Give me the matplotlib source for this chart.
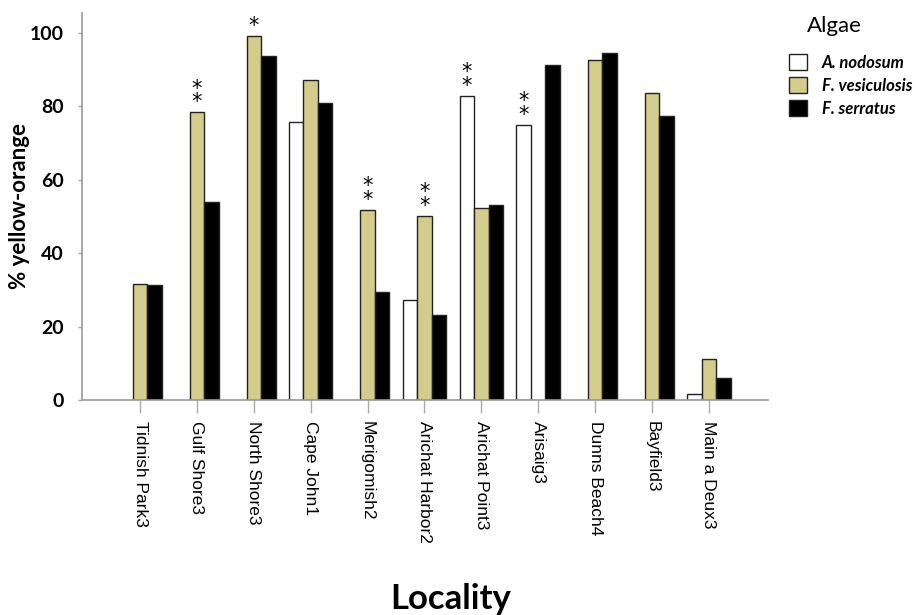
import numpy as np
import matplotlib
matplotlib.use("Agg")
import matplotlib.pyplot as plt
from matplotlib.patches import Patch

localities = [
    "Tidnish Park3", "Gulf Shore3", "North Shore3", "Cape John1",
    "Merigomish2", "Arichat Harbor2", "Arichat Point3", "Arisaig3",
    "Dunns Beach4", "Bayfield3", "Main a Deux3",
]
# % yellow-orange per alga; NaN = not sampled at that locality
nodosum = [np.nan, np.nan, np.nan, 75.6, np.nan, 27.2, 82.7, 74.9, np.nan, np.nan, 1.5]
vesiculosis = [31.5, 78.3, 99.0, 87.1, 51.8, 50.0, 52.2, np.nan, 92.7, 83.6, 11.1]
serratus = [31.2, 53.9, 93.7, 80.9, 29.5, 23.1, 53.2, 91.3, 94.4, 77.2, 6.1]

# significance stars: (locality index, series, number of stars)
stars = [
    (1, "vesiculosis", 2), (2, "vesiculosis", 1), (4, "vesiculosis", 2),
    (5, "vesiculosis", 2), (6, "nodosum", 2), (7, "nodosum", 2),
]

series = {
    "nodosum": (nodosum, "white", "A. nodosum"),
    "vesiculosis": (vesiculosis, "#d4cc8c", "F. vesiculosis"),
    "serratus": (serratus, "black", "F. serratus"),
}
offsets = {"nodosum": -1, "vesiculosis": 0, "serratus": 1}

fig = plt.figure(figsize=(9.17, 6.15), dpi=100)
ax = fig.add_axes([0.0894, 0.3496, 0.7481, 0.6294])

x = np.arange(len(localities))
w = 0.255
for key, (vals, col, lab) in series.items():
    v = np.array(vals, dtype=float)
    m = ~np.isnan(v)
    ax.bar(x[m] + offsets[key] * w, v[m], width=w, color=col,
           edgecolor="#222222", linewidth=1.0, label=lab)

for i, key, n in stars:
    val = series[key][0][i]
    ax.annotate("\n".join(["*"] * n), (x[i] + offsets[key] * w, val),
                xytext=(0, 0), textcoords="offset points",
                ha="center", va="bottom", fontsize=15, linespacing=0.62,
                family="DejaVu Sans")

ax.set_xlim(-1.02, 11.04)
ax.set_ylim(0, 105.4)
ax.set_yticks([0, 20, 40, 60, 80, 100])
ax.set_xticks(x)
ax.set_xticklabels(localities, rotation=-90, fontsize=12.5,
                   family="Liberation Sans")
for t in ax.get_yticklabels():
    t.set_fontfamily("Lato")
    t.set_fontweight("bold")
    t.set_fontsize(14)
ax.tick_params(axis="x", length=9, width=1, color="#aaaaaa", pad=6)
ax.tick_params(axis="y", length=3, width=1, color="#aaaaaa", pad=10)

for s in ("top", "right"):
    ax.spines[s].set_visible(False)
for s in ("left", "bottom"):
    ax.spines[s].set_color("#999999")
    ax.spines[s].set_linewidth(1.2)

ax.set_ylabel("% yellow-orange", family="Lato", fontweight="bold",
              fontsize=16)
ax.yaxis.set_label_coords(-0.076, 0.50)
fig.text(0.492, 0.026, "Locality", family="Lato", fontweight="bold",
         fontsize=25, ha="center", va="center")

fig.text(0.880, 0.957, "Algae", family="Lato", fontsize=16,
         ha="left", va="center")
handles = [Patch(facecolor=c, edgecolor="#222222", label=l)
           for (_, c, l) in series.values()]
fig.legend(handles=handles, loc="upper left",
           bbox_to_anchor=(0.860, 0.912), frameon=False,
           prop={"family": "Lato", "weight": "bold", "style": "italic",
                 "size": 12},
           handlelength=1.1, handleheight=1.1, handletextpad=0.9,
           labelspacing=0.38, borderpad=0, borderaxespad=0)

fig.savefig("out.png", dpi=100, facecolor="white")
